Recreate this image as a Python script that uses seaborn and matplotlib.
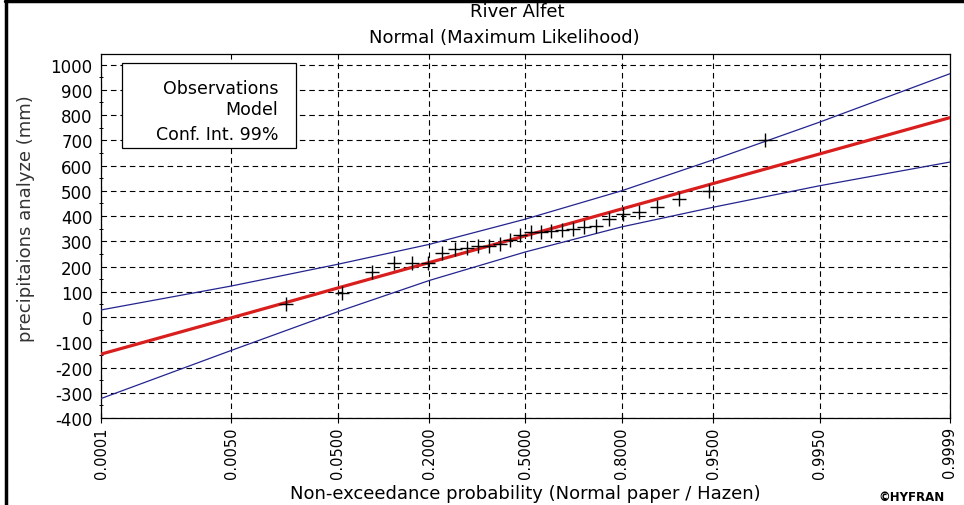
import matplotlib
matplotlib.use("Agg")
import matplotlib.pyplot as plt
import seaborn as sns
import numpy as np
from statistics import NormalDist
from matplotlib.patches import Rectangle
from matplotlib.lines import Line2D
from matplotlib.ticker import NullLocator

# probability ticks on the normal paper axis
tick_probs = [0.0001, 0.0050, 0.0500, 0.2000, 0.5000, 0.8000, 0.9500, 0.9950, 0.9999]
tick_labels = ["0.0001", "0.0050", "0.0500", "0.2000", "0.5000",
               "0.8000", "0.9500", "0.9950", "0.9999"]

# fitted normal model and 99% confidence bounds, read at the tick probabilities
model_vals = [-147, -3, 115, 216, 322, 428, 529, 646, 790]
upper_vals = [28, 123, 209, 288, 388, 500, 623, 772, 964]
lower_vals = [-323, -132, 21, 145, 258, 357, 435, 520, 614]

# observations (sorted) with their Hazen plotting positions
obs_prob = [0.0179, 0.0536, 0.0893, 0.1250, 0.1607, 0.1964, 0.2321, 0.2679,
            0.3036, 0.3393, 0.3750, 0.4107, 0.4464, 0.4821, 0.5179, 0.5536,
            0.5893, 0.6250, 0.6607, 0.6964, 0.7321, 0.7679, 0.8036, 0.8393,
            0.8750, 0.9107, 0.9464, 0.9821]
obs_vals = [51, 96, 177, 216, 216, 216, 255, 268, 275, 280, 282, 288, 307, 323,
            335, 337, 340, 343, 350, 356, 362, 387, 408, 418, 435, 466, 498, 700]

nd = NormalDist()


def to_z(p):
    p = np.clip(np.asarray(p, dtype=float), 1e-10, 1 - 1e-10)
    p = np.where(np.isnan(p), 0.5, p)
    return np.vectorize(nd.inv_cdf, otypes=[float])(p)


def from_z(z):
    z = np.asarray(z, dtype=float)
    z = np.where(np.isnan(z), 0.0, z)
    return np.vectorize(nd.cdf, otypes=[float])(z)


sns.set_theme(style="white")
plt.rcParams["font.family"] = ["DejaVu Sans"]
plt.rcParams["axes.unicode_minus"] = False
plt.rcParams["text.color"] = "black"
plt.rcParams["axes.labelcolor"] = "black"

W, H = 964, 506
fig = plt.figure(figsize=(W / 100, H / 100), dpi=100)
ax = fig.add_axes([101 / W, 1 - 419 / H, 849 / W, 364 / H])
ax.set_xscale("function", functions=(to_z, from_z))

blue = "#24248f"
red = "#d91e1e"
sns.lineplot(x=tick_probs, y=upper_vals, ax=ax, color=blue, linewidth=0.9, zorder=3)
sns.lineplot(x=tick_probs, y=lower_vals, ax=ax, color=blue, linewidth=0.9, zorder=3)
sns.lineplot(x=tick_probs, y=model_vals, ax=ax, color=red, linewidth=2.3, zorder=4)
sns.scatterplot(x=obs_prob, y=obs_vals, ax=ax, marker="+", s=110, color="black",
                linewidth=1.0, zorder=5)

ax.set_xlim(0.0001, 0.9999)
ax.set_ylim(-400, 1042)
ax.set_xticks(tick_probs, tick_labels, rotation=90)
ax.xaxis.set_minor_locator(NullLocator())
ax.set_yticks(np.arange(-400, 1001, 100))
ax.set_yticks(np.arange(-350, 1000, 100), minor=True)

ax.tick_params(axis="both", which="major", direction="inout", length=7, width=0.8,
               color="black", labelcolor="black", pad=2.5)
ax.tick_params(axis="y", which="minor", direction="inout", length=3, width=0.7,
               color="black", left=True)
ax.tick_params(axis="y", labelsize=12)
ax.tick_params(axis="x", labelsize=10.5, bottom=True)

ax.grid(True, which="major", color="black", linestyle=(0, (5, 3.5)), linewidth=0.8)
ax.set_axisbelow(True)
for sp in ax.spines.values():
    sp.set_color("black")
    sp.set_linewidth(0.9)
ax.set_xlabel("")
ax.set_ylabel("")

# legend box (text only, right aligned)
ax.add_patch(Rectangle((0.0247, 0.742), 0.205, 0.233, transform=ax.transAxes,
                       facecolor="white", edgecolor="black", linewidth=0.9, zorder=6))
for txt, yy in [("Observations", 0.9066), ("Model", 0.849), ("Conf. Int. 99%", 0.780)]:
    ax.text(0.2085, yy, txt, transform=ax.transAxes, ha="right", va="center",
            fontsize=12.5, color="black", zorder=7)

# titles and axis labels
fig.text(517 / W, 1 - 12 / H, "River Alfet", ha="center", va="center", fontsize=13)
fig.text(504 / W, 1 - 38 / H, "Normal (Maximum Likelihood)", ha="center",
         va="center", fontsize=13)
fig.text(525 / W, 1 - 494 / H, "Non-exceedance probability (Normal paper / Hazen)",
         ha="center", va="center", fontsize=13)
fig.text(26 / W, 1 - 219 / H, "precipitaions analyze (mm)", ha="center",
         va="center", rotation=90, fontsize=13, color="#333333")
fig.text(912 / W, 1 - 498 / H, "\u00a9HYFRAN", ha="center", va="center",
         fontsize=8.5, fontweight="bold")

# window border
fig.add_artist(Line2D([5 / W, 1], [1 - 2 / H, 1 - 2 / H], color="black", linewidth=2.5))
fig.add_artist(Line2D([6 / W, 6 / W], [0, 1 - 2 / H], color="black", linewidth=2.5))

fig.savefig("out.png", dpi=100, facecolor="white")
